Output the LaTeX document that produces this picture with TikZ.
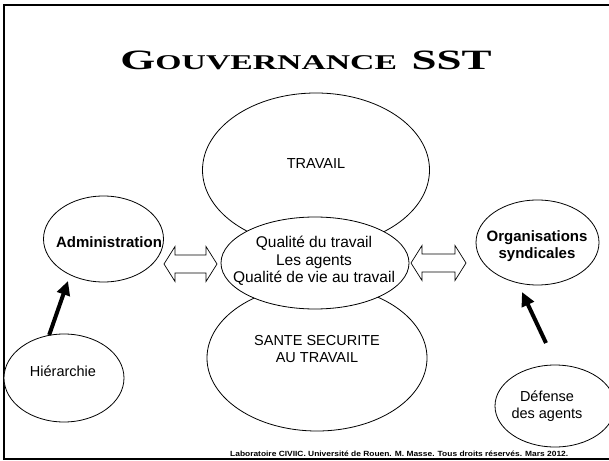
\documentclass[tikz,border=0pt]{standalone}
\usepackage{graphicx}
\usepackage{fontspec}
\setmainfont{Liberation Sans}
\newfontfamily\titlefont{Liberation Serif}
\usetikzlibrary{arrows.meta,shapes.geometric}
\begin{document}
\begin{tikzpicture}[x=1bp,y=-1bp,
  ell/.style={draw, fill=white, ellipse, inner sep=0pt, line width=0.8bp},
  lbl/.style={inner sep=0pt, align=center, font=\fontsize{14.5bp}{17.5bp}\selectfont},
  lblb/.style={inner sep=0pt, align=center, font=\bfseries\fontsize{15bp}{17bp}\selectfont},
  bigarrow/.style={line width=4bp, -{Triangle[length=14bp,width=13bp]}},
  blockarrow/.style={draw, fill=white, line width=0.7bp, line join=miter}]
\useasboundingbox (0,0) rectangle (609,461);
\fill[white] (0,0) rectangle (609,461);
% frame
\draw[line width=2bp] (615,5) -- (4,5) -- (4,459) -- (615,459);
% title
\node[inner sep=0pt, anchor=base] (title) at (306,69.3) {\titlefont\bfseries\resizebox{371bp}{\height}{%
  {\fontsize{28bp}{28bp}\selectfont G}{\fontsize{21bp}{21bp}\selectfont OUVERNANCE}\hspace{9bp}{\fontsize{28bp}{28bp}\selectfont SST}}};
% central cluster
\node[ell, minimum width=227bp, minimum height=154bp] (travail) at (316,170) {};
\node[ell, minimum width=220bp, minimum height=146bp] (sante) at (317,358) {};
\node[ell, minimum width=188bp, minimum height=92bp] (centre) at (315,263) {};
\node[lbl] (ltravail) at (316,164) {TRAVAIL};
\node[lbl] (lsante) at (317,349) {SANTE SECURITE\\AU TRAVAIL};
\node[lbl, font=\fontsize{15.5bp}{17.5bp}\selectfont] (lcentre) at (314,261) {Qualité du travail\\Les agents\\Qualité de vie au travail};
% side ellipses
\node[ell, minimum width=120bp, minimum height=86bp] (admin) at (103.5,239) {};
\node[lblb] (ladmin) at (109,242) {Administration};
\node[ell, minimum width=120bp, minimum height=88bp] (hier) at (64,378) {};
\node[lbl] (lhier) at (63,371) {Hiérarchie};
\node[ell, minimum width=123bp, minimum height=85bp] (org) at (537.5,242.5) {};
\node[lblb] (lorg) at (537,246) {Organisations\\syndicales};
\node[ell, minimum width=120bp, minimum height=82bp] (def) at (555,406) {};
\node[lbl] (ldef) at (547,406) {Défense\\des agents};
% block double arrows
\draw[blockarrow] (164,264) -- (175,246.5) -- (175,255) -- (206,255) -- (206,246.5) -- (217,264)
  -- (206,281.5) -- (206,273) -- (175,273) -- (175,281.5) -- cycle;
\draw[blockarrow] (411,263) -- (422,245.5) -- (422,254) -- (455,254) -- (455,245.5) -- (466,263)
  -- (455,280.5) -- (455,272) -- (422,272) -- (422,280.5) -- cycle;
% thick arrows
\coordinate (htip) at (68,281);
\coordinate (dtail) at (546,343);
\coordinate (dtip) at (522,292);
\draw[bigarrow] (hier.109) -- (htip);
\draw[bigarrow] (dtail) -- (dtip);
% footer
\node[inner sep=0pt, anchor=base west] (footer) at (230,456.5) {\bfseries\fontsize{7.5bp}{8bp}\selectfont\resizebox{338bp}{\height}{Laboratoire CIVIIC. Université de Rouen. M. Masse. Tous droits réservés. Mars 2012.}};
\end{tikzpicture}
\end{document}
